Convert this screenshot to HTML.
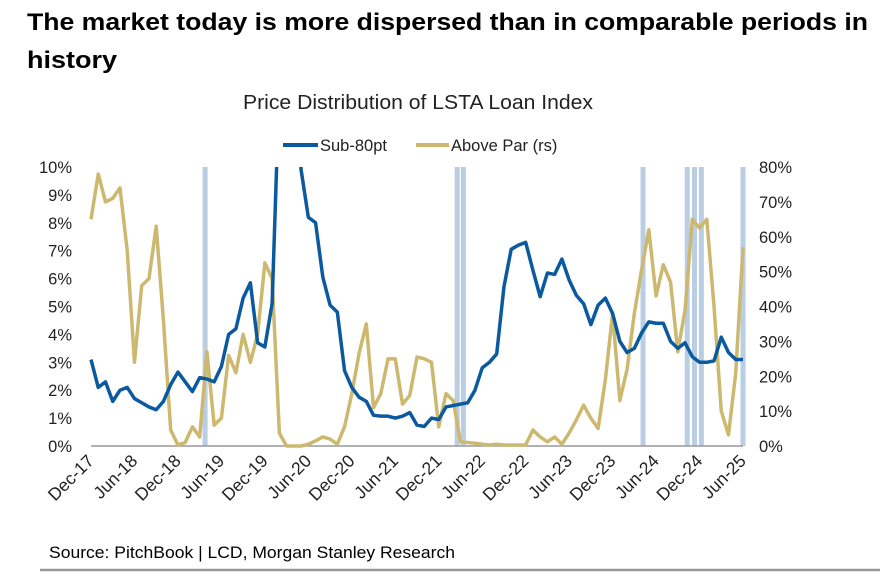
<!DOCTYPE html>
<html><head><meta charset="utf-8"><style>
html,body{margin:0;padding:0;background:#fff;width:880px;height:583px;overflow:hidden}
text{font-family:"Liberation Sans",sans-serif}
</style></head><body>
<svg width="880" height="583" viewBox="0 0 880 583" xmlns="http://www.w3.org/2000/svg">
<text x="27" y="30" font-size="24" font-weight="bold" fill="#000" textLength="841" lengthAdjust="spacingAndGlyphs">The market today is more dispersed than in comparable periods in</text>
<text x="27" y="68" font-size="24" font-weight="bold" fill="#000" textLength="90" lengthAdjust="spacingAndGlyphs">history</text>
<text x="243" y="109" font-size="20" fill="#222" textLength="350" lengthAdjust="spacingAndGlyphs">Price Distribution of LSTA Loan Index</text>
<g>
<line x1="283" y1="145" x2="318" y2="145" stroke="#0b5aa0" stroke-width="4"/>
<text x="320" y="151" font-size="16.5" fill="#222">Sub-80pt</text>
<line x1="416" y1="145" x2="449" y2="145" stroke="#cdb870" stroke-width="4"/>
<text x="451" y="151" font-size="16.5" fill="#222">Above Par (rs)</text>
</g>
<g id="bands"></g>
<g id="axes"></g>
<g id="series"></g>
<text x="49" y="558" font-size="17" fill="#000" textLength="406" lengthAdjust="spacingAndGlyphs">Source: PitchBook | LCD, Morgan Stanley Research</text>
<line x1="40" y1="570" x2="880" y2="570" stroke="#999" stroke-width="2.5"/>
</svg>
<script>
const sub80 = [3.1,2.1,2.3,1.6,2.0,2.1,1.7,1.55,1.4,1.3,1.6,2.2,2.65,2.3,1.95,2.45,2.4,2.3,2.85,4.0,4.2,5.3,5.85,3.7,3.55,5.1,13,20,14,9.9,8.2,8.0,6.05,5.05,4.8,2.7,2.1,1.75,1.6,1.1,1.07,1.07,1.0,1.07,1.2,0.75,0.7,1.0,0.95,1.4,1.45,1.5,1.55,2.0,2.8,3.0,3.3,5.7,7.05,7.2,7.3,6.3,5.35,6.2,6.15,6.7,5.95,5.4,5.1,4.35,5.05,5.3,4.75,3.75,3.35,3.5,4.05,4.45,4.4,4.4,3.75,3.5,3.7,3.2,3.0,3.0,3.05,3.9,3.35,3.1,3.1];
const abovePar = [65,78,70,71,74,56,24,46,48,63,36,4.6,0.3,1,5.5,2.6,27,6,8,26,21,32,24,32,52.5,48,3.7,0,0,0,0.5,1.5,2.6,2,0.5,5.5,15,26.5,35,11,15,25,25,12,14.5,25.5,25,24,5.5,15,13,1.2,1,0.8,0.5,0.3,0.5,0.3,0.3,0.3,0.3,4.6,2.6,1.2,2.6,0.5,3.7,7.5,11.7,8,5,19,38,13,22,38,50.5,62,43,52,47,27,39,65,62.5,65,40,10,3.2,21,57];
const leftTicks = ["0%","1%","2%","3%","4%","5%","6%","7%","8%","9%","10%"];
const rightTicks = ["0%","10%","20%","30%","40%","50%","60%","70%","80%"];
const xLabels = ["Dec-17","Jun-18","Dec-18","Jun-19","Dec-19","Jun-20","Dec-20","Jun-21","Dec-21","Jun-22","Dec-22","Jun-23","Dec-23","Jun-24","Dec-24","Jun-25"];
const bandIdx = [15.75,50.55,51.4,76.2,82.3,83.3,84.25,90];

const NS="http://www.w3.org/2000/svg";
const X0=91,X1=743,Y0=446,Y1=167;
const xs=i=>X0+(X1-X0)*i/(sub80.length-1);
const yl=v=>Y0-(Y0-Y1)*v/10;
const yr=v=>Y0-(Y0-Y1)*v/80;
function mk(tag,attrs,parent){const e=document.createElementNS(NS,tag);for(const k in attrs)e.setAttribute(k,attrs[k]);parent.appendChild(e);return e;}
const bands=document.getElementById('bands'),axes=document.getElementById('axes'),series=document.getElementById('series');
bandIdx.forEach(b=>{const r=mk('rect',{x:xs(b)-2.5,y:Y1,width:5,height:Y0-Y1,fill:'#b9cde3'},bands);

});
const ax=mk('line',{x1:X0,y1:Y0,x2:X1,y2:Y0,stroke:'#999','stroke-width':1.5},axes);


leftTicks.forEach((t,i)=>{const e=mk('text',{x:72,y:yl(i)+6,'font-size':16.5,'text-anchor':'end',fill:'#222'},axes);e.textContent=t;

});
rightTicks.forEach((t,i)=>{const e=mk('text',{x:759,y:yr(i*10)+6,'font-size':16.5,fill:'#222'},axes);e.textContent=t;

});
xLabels.forEach((t,i)=>{const x=xs(i*6)+4,y=462;const e=mk('text',{x:x,y:y,'font-size':17.5,'text-anchor':'end',fill:'#222',transform:`rotate(-45 ${x} ${y})`},axes);e.textContent=t;

});
const cp=mk('clipPath',{id:'pc'},series);
mk('rect',{x:X0-5,y:Y1,width:X1-X0+10,height:Y0-Y1+5},cp);
const gp=mk('polyline',{points:abovePar.map((v,i)=>xs(i)+','+yr(v)).join(' '),fill:'none',stroke:'#cdb870','stroke-width':3.5,'stroke-linejoin':'round','clip-path':'url(#pc)'},series);


const bp=mk('polyline',{points:sub80.map((v,i)=>xs(i)+','+yl(v)).join(' '),fill:'none',stroke:'#0b5aa0','stroke-width':3.5,'stroke-linejoin':'round','clip-path':'url(#pc)'},series);


</script>
</body></html>
